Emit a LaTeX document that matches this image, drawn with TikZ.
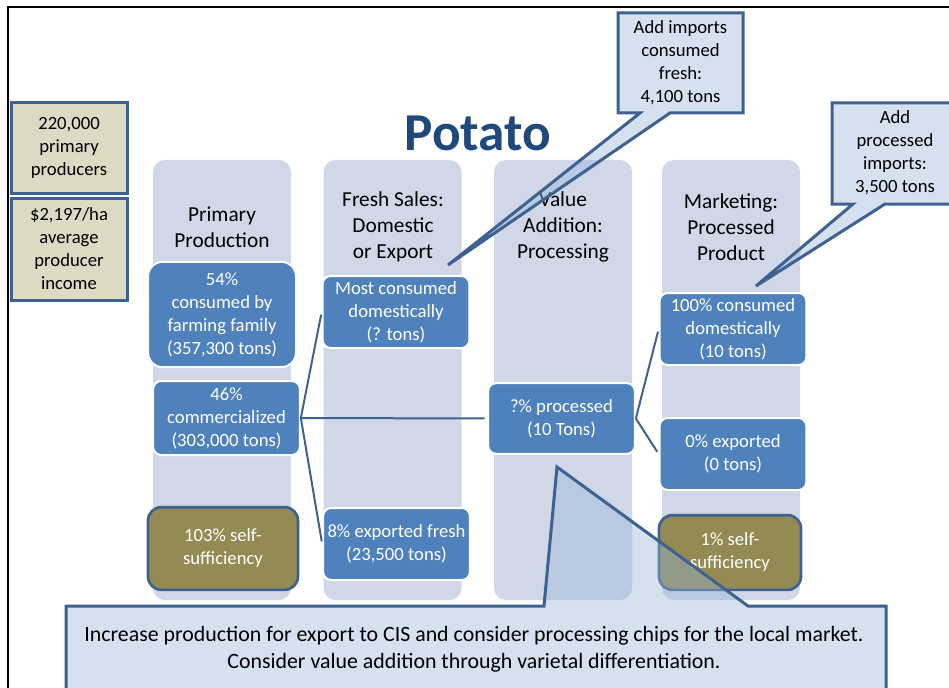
\documentclass[tikz,border=0pt]{standalone}
\usepackage{fontspec}
\setmainfont{Carlito}
\usepackage{tikz}
\usetikzlibrary{calc}

\definecolor{colfill}{HTML}{D0D8E8}
\definecolor{boxblue}{HTML}{4F81BD}
\definecolor{selfolive}{HTML}{948A54}
\definecolor{edgeblue}{HTML}{3D6291}
\definecolor{infotan}{HTML}{DDD9C3}
\definecolor{calloutblue}{HTML}{95B3D7}
\definecolor{titleblue}{HTML}{1F497D}

\begin{document}
\begin{tikzpicture}[
            x = 0.75pt, y = -0.75pt, % pixel grid, y downwards
            column/.style = {fill=colfill, rounded corners=9pt, minimum width=103.5pt, minimum height=330pt, inner sep=0pt},
            header/.style = {align=center, font=\fontsize{16}{19.5}\selectfont},
            flowbox/.style = {fill=boxblue, draw=white, line width=1.5pt, rounded corners=6pt, text=white, align=center,
                              font=\fontsize{14}{17.25}\selectfont, minimum width=110pt, minimum height=54pt, inner sep=1pt},
            selfbox/.style = {flowbox, fill=selfolive, draw=edgeblue, line width=2pt, rounded corners=10pt},
            infobox/.style = {fill=infotan, draw=edgeblue, line width=2.25pt, align=center,
                              font=\fontsize{14}{17.25}\selectfont, minimum width=87pt, inner sep=1pt},
            link/.style = {draw=edgeblue, line width=1.5pt, shorten >=2pt},
            callout/.style = {fill=calloutblue, fill opacity=0.4, draw=edgeblue, line width=2.25pt, line join=miter},
            note/.style = {align=center, text=black}
        ]
\useasboundingbox (0,0) rectangle (949,688);

% slide frame
\draw[line width=1.5pt] (8,700) -- (8,7) -- (960,7);

% columns
\node[column] (col1) at (222,380) {};
\node[column] (col2) at (392.5,380) {};
\node[column] (col3) at (563,380) {};
\node[column] (col4) at (731,380) {};

\node[header] (h1) at (222,227) {Primary\\Production};
\node[header] (h2) at (393,227) {Fresh Sales:\\Domestic\\or Export};
\node[header] (h3) at (563,227) {Value\\Addition:\\Processing};
\node[header] (h4) at (731,227) {Marketing:\\Processed\\Product};

\node[text=titleblue, font=\fontsize{40}{44}\selectfont\bfseries] (title) at (478,133) {Potato};

% left info boxes
\node[infobox, minimum height=67.5pt] (prod) at (69,148) {220,000\\primary\\producers};
\node[infobox, minimum height=76.5pt] (income) at (69,249) {\$2,197/ha\\average\\producer\\income};

% flow boxes
\node[flowbox, minimum width=111pt, minimum height=79pt, rounded corners=11pt] (fam) at (222,314.5) {54\%\\consumed by\\farming family\\(357,300 tons)};
\node[flowbox, minimum height=55.5pt] (comm) at (226.5,418) {46\%\\commercialized\\(303,000 tons)};
\node[selfbox, minimum width=112.5pt, minimum height=62pt] (self1) at (223,548.5) {103\% self-\\sufficiency};

\node[flowbox] (dom) at (396,312) {Most consumed\\domestically\\(? tons)};
\node[flowbox] (exp) at (396.5,544) {8\% exported fresh\\(23,500 tons)};

\node[flowbox, minimum height=53pt] (proc) at (561.5,418.5) {?\% processed\\(10 Tons)};

\node[flowbox] (dom2) at (733,329) {100\% consumed\\domestically\\(10 tons)};
\node[flowbox] (exp2) at (733,454) {0\% exported\\(0 tons)};
\node[selfbox, minimum width=106.5pt, minimum height=56pt] (self2) at (730,552.5) {1\% self-\\sufficiency};

% connectors
\path[link] (comm.east) edge (dom.west)
            (comm.east) edge (exp.west)
            (comm.east) edge (proc.west)
            (proc.east) edge (dom2.west)
            (proc.east) edge (exp2.west);

% callouts
\coordinate (tip1) at (448,265);
\coordinate (tip2) at (756,286);
\coordinate (tip3) at (557,467);
\draw[callout] (618,13) -- (743,13) -- (743,113) -- (670,113) -- (tip1) -- (640,113) -- (618,113) -- cycle;
\draw[callout] (832,103) -- (965,103) -- (965,204) -- (885,204) -- (tip2) -- (853,204) -- (832,204) -- cycle;
\draw[callout] (66,606) -- (544,606) -- (tip3) -- (748,606) -- (886,606) -- (886,700) -- (66,700) -- cycle;

\node[note, font=\fontsize{14}{17.25}\selectfont] (imp1) at (680.5,63) {Add imports\\consumed\\fresh:\\4,100 tons};
\node[note, font=\fontsize{14}{17.25}\selectfont] (imp2) at (895,153) {Add\\processed\\imports:\\3,500 tons};
\node[note, font=\fontsize{16.4}{20}\selectfont] (advice) at (474,649) {Increase production for export to CIS and consider processing chips for the local market.\\Consider value addition through varietal differentiation.};
\end{tikzpicture}
\end{document}
